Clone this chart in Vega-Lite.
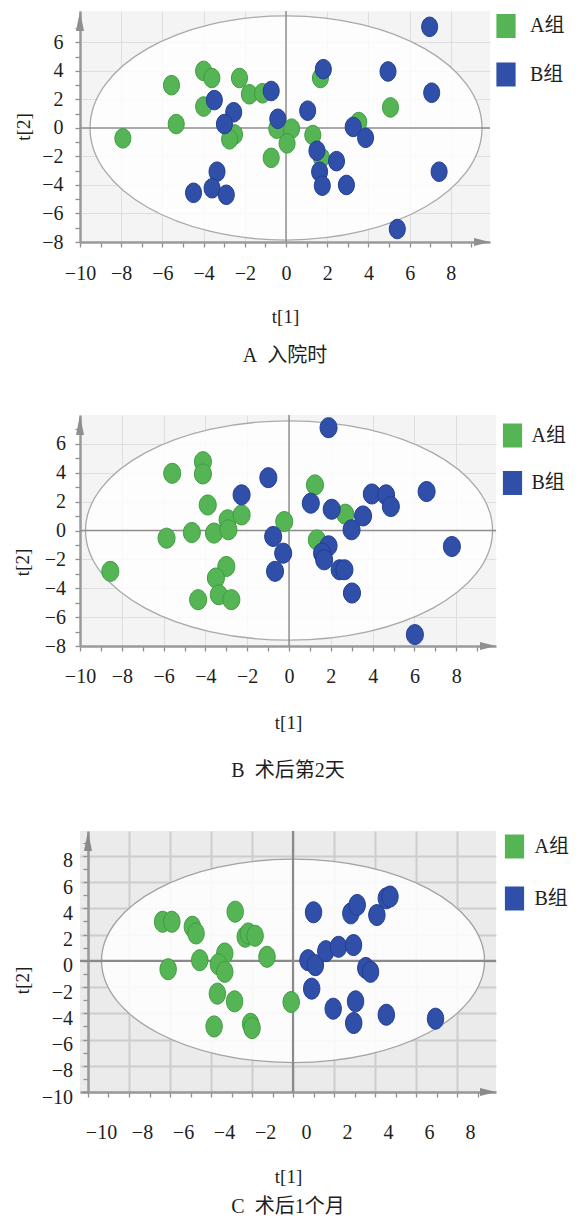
{
  "$schema": "https://vega.github.io/schema/vega-lite/v6.json",
  "padding": {"top": 10, "left": 13, "right": 0, "bottom": 0},
  "background": "white",
  "spacing": 48,
  "datasets": {
    "pa": [
      {"t1": -7.92, "t2": -0.73, "g": "A组"}, {"t1": -5.56, "t2": 3.0, "g": "A组"}, {"t1": -5.33, "t2": 0.27, "g": "A组"},
      {"t1": -4.0, "t2": 4.0, "g": "A组"}, {"t1": -3.6, "t2": 3.5, "g": "A组"}, {"t1": -4.0, "t2": 1.5, "g": "A组"},
      {"t1": -2.5, "t2": -0.46, "g": "A组"}, {"t1": -2.74, "t2": -0.8, "g": "A组"}, {"t1": -2.26, "t2": 3.5, "g": "A组"},
      {"t1": -1.78, "t2": 2.36, "g": "A组"}, {"t1": -1.14, "t2": 2.43, "g": "A组"}, {"t1": -0.72, "t2": -2.1, "g": "A组"},
      {"t1": -0.45, "t2": -0.05, "g": "A组"}, {"t1": 0.27, "t2": -0.05, "g": "A组"}, {"t1": 0.05, "t2": -1.08, "g": "A组"},
      {"t1": 1.3, "t2": -0.5, "g": "A组"}, {"t1": 1.67, "t2": 3.5, "g": "A组"}, {"t1": 1.72, "t2": -2.1, "g": "A组"},
      {"t1": 3.53, "t2": 0.41, "g": "A组"}, {"t1": 5.07, "t2": 1.44, "g": "A组"},
      {"t1": 6.97, "t2": 7.09, "g": "B组"}, {"t1": 1.81, "t2": 4.12, "g": "B组"}, {"t1": 4.95, "t2": 3.96, "g": "B组"},
      {"t1": 7.07, "t2": 2.47, "g": "B组"}, {"t1": -3.48, "t2": 1.95, "g": "B组"}, {"t1": -2.54, "t2": 1.1, "g": "B组"},
      {"t1": -2.99, "t2": 0.27, "g": "B组"}, {"t1": -0.72, "t2": 2.59, "g": "B组"}, {"t1": -0.4, "t2": 0.64, "g": "B组"},
      {"t1": 1.05, "t2": 1.21, "g": "B组"}, {"t1": 3.26, "t2": 0.07, "g": "B组"}, {"t1": 3.86, "t2": -0.69, "g": "B组"},
      {"t1": 1.5, "t2": -1.6, "g": "B组"}, {"t1": 2.45, "t2": -2.33, "g": "B组"}, {"t1": 1.63, "t2": -3.07, "g": "B组"},
      {"t1": 1.76, "t2": -4.05, "g": "B组"}, {"t1": 2.93, "t2": -4.0, "g": "B组"}, {"t1": 7.43, "t2": -3.07, "g": "B组"},
      {"t1": 5.4, "t2": -7.09, "g": "B组"}, {"t1": -3.35, "t2": -3.07, "g": "B组"}, {"t1": -3.59, "t2": -4.23, "g": "B组"},
      {"t1": -4.49, "t2": -4.55, "g": "B组"}, {"t1": -2.9, "t2": -4.69, "g": "B组"}
    ],
    "pb": [
      {"t1": -8.55, "t2": -2.83, "g": "A组"}, {"t1": -5.86, "t2": -0.53, "g": "A组"}, {"t1": -5.59, "t2": 3.96, "g": "A组"},
      {"t1": -4.65, "t2": -0.14, "g": "A组"}, {"t1": -4.12, "t2": 4.77, "g": "A组"}, {"t1": -4.12, "t2": 3.92, "g": "A组"},
      {"t1": -3.89, "t2": 1.77, "g": "A组"}, {"t1": -3.59, "t2": -0.18, "g": "A组"}, {"t1": -2.94, "t2": 0.74, "g": "A组"},
      {"t1": -2.9, "t2": 0.05, "g": "A组"}, {"t1": -2.27, "t2": 1.08, "g": "A组"}, {"t1": -3.0, "t2": -2.49, "g": "A组"},
      {"t1": -3.5, "t2": -3.29, "g": "A组"}, {"t1": -3.36, "t2": -4.45, "g": "A组"}, {"t1": -4.35, "t2": -4.79, "g": "A组"},
      {"t1": -2.76, "t2": -4.79, "g": "A组"}, {"t1": -0.23, "t2": 0.62, "g": "A组"}, {"t1": 1.24, "t2": 3.16, "g": "A组"},
      {"t1": 1.33, "t2": -0.65, "g": "A组"}, {"t1": 2.69, "t2": 1.13, "g": "A组"},
      {"t1": 1.89, "t2": 7.12, "g": "B组"}, {"t1": -0.99, "t2": 3.66, "g": "B组"}, {"t1": -2.27, "t2": 2.47, "g": "B组"},
      {"t1": -0.76, "t2": -0.41, "g": "B组"}, {"t1": -0.28, "t2": -1.57, "g": "B组"}, {"t1": -0.67, "t2": -2.83, "g": "B组"},
      {"t1": 1.04, "t2": 1.89, "g": "B组"}, {"t1": 2.04, "t2": 1.47, "g": "B组"}, {"t1": 1.89, "t2": -1.06, "g": "B组"},
      {"t1": 1.58, "t2": -1.57, "g": "B组"}, {"t1": 1.68, "t2": -2.03, "g": "B组"}, {"t1": 2.42, "t2": -2.72, "g": "B组"},
      {"t1": 2.65, "t2": -2.72, "g": "B组"}, {"t1": 2.99, "t2": 0.05, "g": "B组"}, {"t1": 3.54, "t2": 1.01, "g": "B组"},
      {"t1": 3.96, "t2": 2.53, "g": "B组"}, {"t1": 4.64, "t2": 2.47, "g": "B组"}, {"t1": 4.87, "t2": 1.66, "g": "B组"},
      {"t1": 6.58, "t2": 2.7, "g": "B组"}, {"t1": 7.79, "t2": -1.11, "g": "B组"}, {"t1": 3.01, "t2": -4.33, "g": "B组"},
      {"t1": 6.02, "t2": -7.21, "g": "B组"}
    ],
    "pc": [
      {"t1": -6.36, "t2": 2.98, "g": "A组"}, {"t1": -5.91, "t2": 2.98, "g": "A组"}, {"t1": -6.09, "t2": -0.64, "g": "A组"},
      {"t1": -4.91, "t2": 2.6, "g": "A组"}, {"t1": -4.73, "t2": 2.09, "g": "A组"}, {"t1": -4.55, "t2": 0.05, "g": "A组"},
      {"t1": -2.82, "t2": 3.75, "g": "A组"}, {"t1": -2.33, "t2": 1.84, "g": "A组"}, {"t1": -2.18, "t2": 2.09, "g": "A组"},
      {"t1": -1.85, "t2": 1.91, "g": "A组"}, {"t1": -1.27, "t2": 0.31, "g": "A组"}, {"t1": -3.33, "t2": 0.56, "g": "A组"},
      {"t1": -3.64, "t2": -0.26, "g": "A组"}, {"t1": -3.33, "t2": -0.84, "g": "A组"}, {"t1": -3.69, "t2": -2.5, "g": "A组"},
      {"t1": -2.85, "t2": -3.09, "g": "A组"}, {"t1": -3.85, "t2": -5.0, "g": "A组"}, {"t1": -2.07, "t2": -4.8, "g": "A组"},
      {"t1": -2.0, "t2": -5.13, "g": "A组"}, {"t1": -0.09, "t2": -3.14, "g": "A组"},
      {"t1": 1.0, "t2": 3.7, "g": "B组"}, {"t1": 2.82, "t2": 3.62, "g": "B组"}, {"t1": 3.13, "t2": 4.26, "g": "B组"},
      {"t1": 4.09, "t2": 3.49, "g": "B组"}, {"t1": 4.55, "t2": 4.77, "g": "B组"}, {"t1": 4.73, "t2": 4.9, "g": "B组"},
      {"t1": 0.73, "t2": 0.05, "g": "B组"}, {"t1": 1.09, "t2": -0.33, "g": "B组"}, {"t1": 1.6, "t2": 0.74, "g": "B组"},
      {"t1": 2.22, "t2": 1.07, "g": "B组"}, {"t1": 2.95, "t2": 1.2, "g": "B组"}, {"t1": 3.55, "t2": -0.54, "g": "B组"},
      {"t1": 3.78, "t2": -0.84, "g": "B组"}, {"t1": 0.91, "t2": -2.12, "g": "B组"}, {"t1": 1.96, "t2": -3.65, "g": "B组"},
      {"t1": 3.05, "t2": -3.09, "g": "B组"}, {"t1": 2.96, "t2": -4.74, "g": "B组"}, {"t1": 4.55, "t2": -4.11, "g": "B组"},
      {"t1": 6.95, "t2": -4.41, "g": "B组"}
    ],
    "origin": [{"t1": 0, "t2": 0}],
    "zero": [{"z": 0}]
  },
  "vconcat": [
    {
      "width": 410,
      "height": 231,
      "view": {"fill": "#f4f4f4", "stroke": null},
      "title": {"text": "A\u2002入院时", "offset": 20},
      "layer": [
        {
          "data": {"name": "pa"},
          "mark": {"type": "point", "size": 0, "opacity": 0},
          "encoding": {
            "x": {"field": "t1", "type": "quantitative", "scale": {"domain": [-10, 9.9], "nice": false, "zero": false},
              "axis": {"title": "t[1]", "values": [-10, -9, -8, -7, -6, -5, -4, -3, -2, -1, 0, 1, 2, 3, 4, 5, 6, 7, 8, 9], "tickCount": 100, "format": "d",
                "labelExpr": "datum.value % 2 === 0 ? datum.label : ''", "labelOverlap": false,
                "gridOpacity": {"condition": {"test": "datum.value % 2 === 0", "value": 1}, "value": 0},
                "labelPadding": 16, "titlePadding": 24}},
            "y": {"field": "t2", "type": "quantitative", "scale": {"domain": [-8, 8.2], "nice": false, "zero": false},
              "axis": {"title": "t[2]", "values": [-8, -7, -6, -5, -4, -3, -2, -1, 0, 1, 2, 3, 4, 5, 6, 7], "tickCount": 100, "format": "d",
                "labelExpr": "datum.value % 2 === 0 ? datum.label : ''", "labelOverlap": false,
                "gridOpacity": {"condition": {"test": "datum.value % 2 === 0", "value": 1}, "value": 0},
                "labelPadding": 12, "titlePadding": 8.5}}
          }
        },
        {
          "data": {"name": "origin"},
          "mark": {"type": "point", "shape": "M1,0C1,0.3159 0.5523,0.572 0,0.572C-0.5523,0.572 -1,0.3159 -1,0C-1,-0.3159 -0.5523,-0.572 0,-0.572C0.5523,-0.572 1,-0.3159 1,0Z", "size": 153664, "filled": true, "fill": "#ffffff", "fillOpacity": 0.8, "stroke": "#a9a9a9", "strokeWidth": 1.3, "opacity": 1},
          "encoding": {"x": {"field": "t1", "type": "quantitative"}, "y": {"field": "t2", "type": "quantitative"}}
        },
        {
          "data": {"name": "zero"},
          "mark": {"type": "rule", "color": "#8e8e8e", "strokeWidth": 1.5},
          "encoding": {"x": {"field": "z", "type": "quantitative"}}
        },
        {
          "data": {"name": "zero"},
          "mark": {"type": "rule", "color": "#8e8e8e", "strokeWidth": 1.5},
          "encoding": {"y": {"field": "z", "type": "quantitative"}}
        },
        {
          "data": {"name": "origin"},
          "mark": {"type": "point", "shape": "M0,0L0.4,2L-0.4,2Z", "size": 400, "filled": true, "color": "#8f8f8f", "opacity": 1},
          "encoding": {"x": {"datum": -10, "type": "quantitative"}, "y": {"datum": 8.2, "type": "quantitative"}}
        },
        {
          "data": {"name": "origin"},
          "mark": {"type": "point", "shape": "M0,0L-2,-0.5L-2,0.5Z", "size": 256, "filled": true, "color": "#8f8f8f", "opacity": 1},
          "encoding": {"x": {"datum": 9.9, "type": "quantitative"}, "y": {"datum": -8, "type": "quantitative"}}
        },
        {
          "data": {"name": "pa"},
          "mark": {"type": "point", "shape": "M0.82,0C0.82,0.5523 0.4529,1 0,1C-0.4529,1 -0.82,0.5523 -0.82,0C-0.82,-0.5523 -0.4529,-1 0,-1C0.4529,-1 0.82,-0.5523 0.82,0Z", "size": 380, "filled": true, "opacity": 1, "strokeWidth": 1},
          "encoding": {
            "x": {"field": "t1", "type": "quantitative"},
            "y": {"field": "t2", "type": "quantitative"},
            "fill": {"field": "g", "type": "nominal", "scale": {"domain": ["A组", "B组"], "range": ["#55b555", "#2f4fa8"]},
              "legend": {"title": null, "offset": 1, "padding": 3, "rowPadding": 24.5, "labelOffset": 12}},
            "stroke": {"field": "g", "type": "nominal", "scale": {"domain": ["A组", "B组"], "range": ["#3e9b42", "#223d92"]}, "legend": null}
          }
        }
      ]
    },
    {
      "width": 416,
      "height": 231,
      "view": {"fill": "#f4f4f4", "stroke": null},
      "title": {"text": "B\u2002术后第2天", "offset": 29},
      "layer": [
        {
          "data": {"name": "pb"},
          "mark": {"type": "point", "size": 0, "opacity": 0},
          "encoding": {
            "x": {"field": "t1", "type": "quantitative", "scale": {"domain": [-10, 9.9], "nice": false, "zero": false},
              "axis": {"title": "t[1]", "values": [-10, -9, -8, -7, -6, -5, -4, -3, -2, -1, 0, 1, 2, 3, 4, 5, 6, 7, 8, 9], "tickCount": 100, "format": "d",
                "labelExpr": "datum.value % 2 === 0 ? datum.label : ''", "labelOverlap": false,
                "gridOpacity": {"condition": {"test": "datum.value % 2 === 0", "value": 1}, "value": 0},
                "labelPadding": 15, "titlePadding": 27}},
            "y": {"field": "t2", "type": "quantitative", "scale": {"domain": [-8, 8], "nice": false, "zero": false},
              "axis": {"title": "t[2]", "values": [-8, -7, -6, -5, -4, -3, -2, -1, 0, 1, 2, 3, 4, 5, 6, 7], "tickCount": 100, "format": "d",
                "labelExpr": "datum.value % 2 === 0 ? datum.label : ''", "labelOverlap": false,
                "gridOpacity": {"condition": {"test": "datum.value % 2 === 0", "value": 1}, "value": 0},
                "labelPadding": 9.5, "titlePadding": 12, "titleY": 147}}
          }
        },
        {
          "data": {"name": "origin"},
          "mark": {"type": "point", "shape": "M1,0C1,0.2977 0.5523,0.539 0,0.539C-0.5523,0.539 -1,0.2977 -1,0C-1,-0.2977 -0.5523,-0.539 0,-0.539C0.5523,-0.539 1,-0.2977 1,0Z", "size": 165649, "filled": true, "fill": "#ffffff", "fillOpacity": 0.8, "stroke": "#a9a9a9", "strokeWidth": 1.3, "opacity": 1},
          "encoding": {"x": {"field": "t1", "type": "quantitative"}, "y": {"field": "t2", "type": "quantitative"}}
        },
        {
          "data": {"name": "zero"},
          "mark": {"type": "rule", "color": "#8e8e8e", "strokeWidth": 1.5},
          "encoding": {"x": {"field": "z", "type": "quantitative"}}
        },
        {
          "data": {"name": "zero"},
          "mark": {"type": "rule", "color": "#8e8e8e", "strokeWidth": 1.5},
          "encoding": {"y": {"field": "z", "type": "quantitative"}}
        },
        {
          "data": {"name": "origin"},
          "mark": {"type": "point", "shape": "M0,0L0.4,2L-0.4,2Z", "size": 400, "filled": true, "color": "#8f8f8f", "opacity": 1},
          "encoding": {"x": {"datum": -10, "type": "quantitative"}, "y": {"datum": 8, "type": "quantitative"}}
        },
        {
          "data": {"name": "origin"},
          "mark": {"type": "point", "shape": "M0,0L-2,-0.5L-2,0.5Z", "size": 256, "filled": true, "color": "#8f8f8f", "opacity": 1},
          "encoding": {"x": {"datum": 9.9, "type": "quantitative"}, "y": {"datum": -8, "type": "quantitative"}}
        },
        {
          "data": {"name": "pb"},
          "mark": {"type": "point", "shape": "M0.85,0C0.85,0.5523 0.4695,1 0,1C-0.4695,1 -0.85,0.5523 -0.85,0C-0.85,-0.5523 -0.4695,-1 0,-1C0.4695,-1 0.85,-0.5523 0.85,0Z", "size": 400, "filled": true, "opacity": 1, "strokeWidth": 1},
          "encoding": {
            "x": {"field": "t1", "type": "quantitative"},
            "y": {"field": "t2", "type": "quantitative"},
            "fill": {"field": "g", "type": "nominal", "scale": {"domain": ["A组", "B组"], "range": ["#55b555", "#2f4fa8"]},
              "legend": {"title": null, "offset": -4, "padding": 8.5, "rowPadding": 23.5, "labelOffset": 7}},
            "stroke": {"field": "g", "type": "nominal", "scale": {"domain": ["A组", "B组"], "range": ["#3e9b42", "#223d92"]}, "legend": null}
          }
        }
      ]
    },
    {
      "width": 416,
      "height": 261,
      "view": {"fill": "#ebebeb", "stroke": null},
      "title": {"text": "C\u2002术后1个月", "offset": 11},
      "layer": [
        {
          "data": {"name": "pc"},
          "mark": {"type": "point", "size": 0, "opacity": 0},
          "encoding": {
            "x": {"field": "t1", "type": "quantitative", "scale": {"domain": [-10.39, 9.9], "nice": false, "zero": false},
              "axis": {"title": "t[1]", "values": [-10, -9, -8, -7, -6, -5, -4, -3, -2, -1, 0, 1, 2, 3, 4, 5, 6, 7, 8, 9], "tickCount": 100, "format": "d",
                "labelExpr": "datum.value % 2 === 0 ? datum.label : ''", "labelOverlap": false,
                "gridOpacity": {"condition": {"test": "datum.value % 2 === 0", "value": 1}, "value": 0},
                "gridColor": "#cdcdcd", "gridWidth": 2,
                "labelPadding": 25, "labelOffset": 13, "titlePadding": 25}},
            "y": {"field": "t2", "type": "quantitative", "scale": {"domain": [-10, 9.9], "nice": false, "zero": false},
              "axis": {"title": "t[2]", "values": [-10, -9, -8, -7, -6, -5, -4, -3, -2, -1, 0, 1, 2, 3, 4, 5, 6, 7, 8, 9], "tickCount": 100, "format": "d",
                "labelExpr": "datum.value % 2 === 0 ? datum.label : ''", "labelOverlap": false,
                "gridOpacity": {"condition": {"test": "datum.value % 2 === 0", "value": 1}, "value": 0},
                "gridColor": "#cdcdcd", "gridWidth": 2,
                "offset": -8, "labelPadding": 10.5, "labelOffset": 5, "titlePadding": 8.5, "titleY": 149}}
          }
        },
        {
          "data": {"name": "origin"},
          "mark": {"type": "point", "shape": "M1,0C1,0.2933 0.5523,0.531 0,0.531C-0.5523,0.531 -1,0.2933 -1,0C-1,-0.2933 -0.5523,-0.531 0,-0.531C0.5523,-0.531 1,-0.2933 1,0Z", "size": 146689, "filled": true, "fill": "#ffffff", "fillOpacity": 0.85, "stroke": "#a2a2a2", "strokeWidth": 1.3, "opacity": 1},
          "encoding": {"x": {"field": "t1", "type": "quantitative"}, "y": {"field": "t2", "type": "quantitative"}}
        },
        {
          "data": {"name": "zero"},
          "mark": {"type": "rule", "color": "#8a8a8a", "strokeWidth": 2.2},
          "encoding": {"x": {"field": "z", "type": "quantitative"}}
        },
        {
          "data": {"name": "zero"},
          "mark": {"type": "rule", "color": "#8a8a8a", "strokeWidth": 2.2},
          "encoding": {"y": {"field": "z", "type": "quantitative"}}
        },
        {
          "data": {"name": "origin"},
          "mark": {"type": "point", "shape": "M0,0L0.4,2L-0.4,2Z", "size": 400, "filled": true, "color": "#8a8a8a", "opacity": 1},
          "encoding": {"x": {"datum": -10, "type": "quantitative"}, "y": {"datum": 9.9, "type": "quantitative"}}
        },
        {
          "data": {"name": "origin"},
          "mark": {"type": "point", "shape": "M0,0L-2,-0.5L-2,0.5Z", "size": 256, "filled": true, "color": "#8a8a8a", "opacity": 1},
          "encoding": {"x": {"datum": 9.9, "type": "quantitative"}, "y": {"datum": -10, "type": "quantitative"}}
        },
        {
          "data": {"name": "pc"},
          "mark": {"type": "point", "shape": "M0.78,0C0.78,0.5523 0.4308,1 0,1C-0.4308,1 -0.78,0.5523 -0.78,0C-0.78,-0.5523 -0.4308,-1 0,-1C0.4308,-1 0.78,-0.5523 0.78,0Z", "size": 441, "filled": true, "opacity": 1, "strokeWidth": 1},
          "encoding": {
            "x": {"field": "t1", "type": "quantitative"},
            "y": {"field": "t2", "type": "quantitative"},
            "fill": {"field": "g", "type": "nominal", "scale": {"domain": ["A组", "B组"], "range": ["#55b555", "#2f4fa8"]},
              "legend": {"title": null, "offset": 2.5, "padding": 3.5, "rowPadding": 28, "labelOffset": 8}},
            "stroke": {"field": "g", "type": "nominal", "scale": {"domain": ["A组", "B组"], "range": ["#3e9b42", "#223d92"]}, "legend": null}
          }
        }
      ]
    }
  ],
  "resolve": {
    "scale": {"x": "independent", "y": "independent", "fill": "independent", "stroke": "independent"},
    "axis": {"x": "independent", "y": "independent"},
    "legend": {"fill": "independent"}
  },
  "config": {
    "view": {"stroke": null},
    "axis": {
      "labelFont": "Liberation Serif, Noto Sans CJK SC", "labelFontSize": 20, "labelColor": "#1e1e1e",
      "titleFont": "Liberation Serif, Noto Sans CJK SC", "titleFontSize": 19, "titleFontWeight": "normal", "titleColor": "#1e1e1e",
      "domainColor": "#9a9a9a", "domainWidth": 2.5, "tickColor": "#8f8f8f", "tickWidth": 1.3, "tickSize": 5,
      "grid": true, "gridColor": "#dedede", "gridWidth": 1,
      "labelFlush": false, "labelOverlap": false, "labelBound": false
    },
    "legend": {
      "orient": "right",
      "labelFont": "Liberation Serif, Noto Sans CJK SC", "labelFontSize": 20, "labelColor": "#1e1e1e",
      "symbolType": "M-0.8,-1L0.8,-1L0.8,1L-0.8,1Z", "symbolSize": 576, "symbolStrokeWidth": 0, "symbolOpacity": 1
    },
    "title": {
      "font": "Liberation Serif, Noto Sans CJK SC", "fontSize": 20, "fontWeight": "normal", "color": "#1e1e1e",
      "orient": "bottom", "anchor": "middle"
    }
  }
}
